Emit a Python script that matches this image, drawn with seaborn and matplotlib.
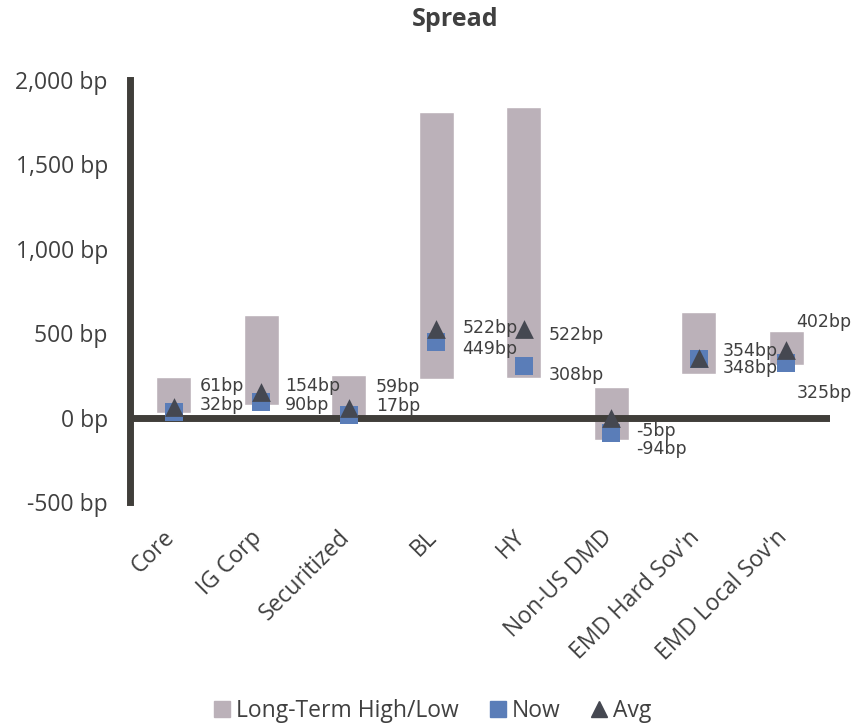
import matplotlib
matplotlib.use("Agg")
import matplotlib.pyplot as plt
from matplotlib.lines import Line2D
from matplotlib.ticker import FuncFormatter
from matplotlib.transforms import ScaledTranslation
import seaborn as sns

# Spread ranges by sector (basis points)
categories = ["Core", "IG Corp", "Securitized", "BL", "HY",
              "Non-US DMD", "EMD Hard Sov'n", "EMD Local Sov'n"]
range_high = [238, 609, 250, 1809, 1838, 183, 625, 511]
range_low = [25, 75, 12, 231, 235, -134, 256, 314]
now_vals = [32, 90, 17, 449, 308, -94, 348, 325]
avg_vals = [61, 154, 59, 522, 522, -5, 354, 402]
y_ticks = [-500, 0, 500, 1000, 1500, 2000]

# label placement (pixel offsets from each marker)
label_dx = [26, 24, 27, 26, 25, 25, 24, 10]
avg_dy = [21, 6, 21, 1.5, -6, -13, 7, 28]
now_dy = [7, -3, 9, -7, -9, -16, -9, -30]

BAR = "#BBB1B9"
BLUE = "#5A7DB8"
DARK = "#454851"
AXIS = "#403E3A"
TEXT = "#404040"
FS = 16.5

sns.set_theme(style="white")
plt.rcParams["font.family"] = ["Open Sans", "DejaVu Sans"]
plt.rcParams["text.color"] = TEXT

fig = plt.figure(figsize=(8.55, 7.26), dpi=100)
ax = fig.add_axes([130 / 855, 1 - 502 / 726, 700 / 855, 422 / 726])

heights = [h - l for h, l in zip(range_high, range_low)]
sns.barplot(x=categories, y=heights, bottom=range_low, color=BAR,
            width=0.4, saturation=1, ax=ax, zorder=1)
ax.axhline(0, color=AXIS, lw=5, zorder=2)
sns.stripplot(x=categories, y=now_vals, jitter=False, marker="s", size=13.5,
              color=BLUE, linewidth=0, ax=ax, zorder=4)
sns.stripplot(x=categories, y=avg_vals, jitter=False, marker="^", size=13.5,
              color=DARK, linewidth=0, ax=ax, zorder=5)

for i in range(len(categories)):
    ax.annotate(f"{avg_vals[i]}bp", (i, avg_vals[i]), xytext=(label_dx[i], avg_dy[i]),
                textcoords="offset pixels", ha="left", va="center",
                fontsize=12.5, family="DejaVu Sans", color=TEXT, zorder=6)
    ax.annotate(f"{now_vals[i]}bp", (i, now_vals[i]), xytext=(label_dx[i], now_dy[i]),
                textcoords="offset pixels", ha="left", va="center",
                fontsize=12.5, family="DejaVu Sans", color=TEXT, zorder=6)

ax.set_xlim(-0.5, len(categories) - 0.5)
ax.set_ylim(-500, 2000)
ax.set_yticks(y_ticks)
ax.yaxis.set_major_formatter(FuncFormatter(lambda v, p: f"{v:,.0f} bp"))
ax.tick_params(axis="y", length=0, pad=16, labelsize=FS, labelcolor=TEXT)
ax.tick_params(axis="x", length=0, pad=17, labelsize=FS, labelcolor=TEXT)
ax.set_xticks(range(len(categories)))
ax.set_xticklabels(categories, rotation=45, ha="right", rotation_mode="anchor")
shift = ScaledTranslation(-11 / 100, 0, fig.dpi_scale_trans)
for lab in ax.get_xticklabels():
    lab.set_transform(lab.get_transform() + shift)
ax.set_xlabel("")
ax.set_ylabel("")

for s in ["top", "right", "bottom"]:
    ax.spines[s].set_visible(False)
ax.spines["left"].set_color(AXIS)
ax.spines["left"].set_linewidth(5)

fig.text(455 / 855, 1 - 20 / 726, "Spread", ha="center", va="center",
         fontsize=18, fontweight="bold", color=TEXT)

handles = [
    Line2D([], [], ls="", marker="s", ms=11, color=BAR),
    Line2D([], [], ls="", marker="s", ms=11, color=BLUE),
    Line2D([], [], ls="", marker="^", ms=11, color=DARK),
]
fig.legend(handles, ["Long-Term High/Low", "Now", "Avg"], loc="center",
           bbox_to_anchor=(431 / 855, 1 - 711 / 726), ncol=3, frameon=False,
           fontsize=FS, handletextpad=0.1, columnspacing=1.2, handlelength=1.0)

fig.savefig("out.png", dpi=100)
